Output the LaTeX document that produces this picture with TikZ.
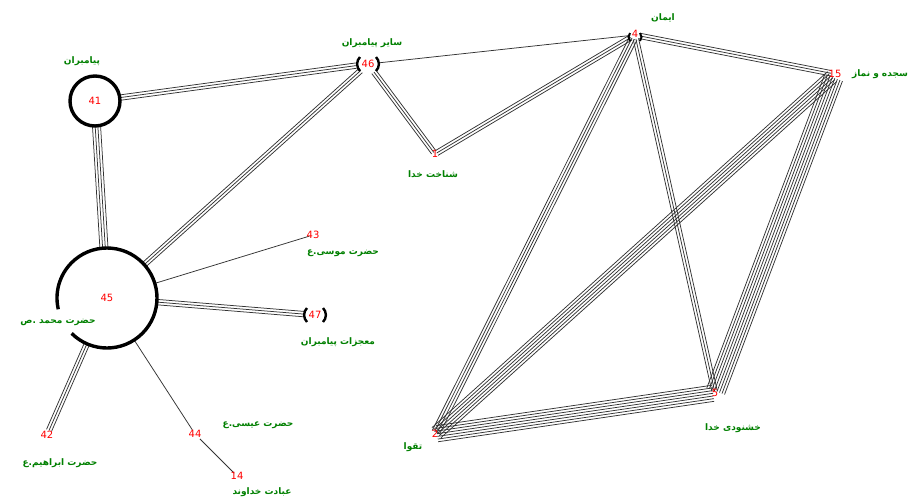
\documentclass[tikz,border=0pt]{standalone}
\usepackage{fontspec}
\usetikzlibrary{calc}
\newfontfamily\arabicfont[Script=Arabic]{DejaVu Sans}
\newfontfamily\numfont{DejaVu Sans}
\TeXXeTstate=1
\definecolor{lblgreen}{RGB}{0,128,0}
\definecolor{numred}{RGB}{255,0,0}
\newcommand\mlines[4]{%
  \foreach \i in {1,...,#3}{%
    \pgfmathsetmacro\dd{(\i-(#3+1)/2)*2.7}%
    \draw[edge,#4] ($(#1)!\dd pt!90:(#2)$) -- ($(#2)!\dd pt!-90:(#1)$);
  }}
\begin{document}
\begin{tikzpicture}[x=1pt,y=1pt,
  edge/.style={draw=black!80,line width=0.75pt},
  lbl/.style={text=lblgreen,font=\arabicfont\bfseries\fontsize{9}{11}\selectfont,inner sep=0pt},
  num/.style={text=numred,font=\numfont\fontsize{10}{11}\selectfont,inner sep=0pt},
  brk/.style={draw=black,line width=2.4pt},
  ring/.style={draw=black,line width=3.4pt}]
\useasboundingbox[fill=white] (0,0) rectangle (909,-499);
% positions
\coordinate (c41) at (95,-101);
\coordinate (c45) at (107,-298);
\coordinate (c46) at (368,-64);
\coordinate (c1) at (435,-154);
\coordinate (c4) at (635,-35);
\coordinate (c15) at (835,-74);
\coordinate (c43) at (313,-235);
\coordinate (c47) at (315,-315);
\coordinate (c42) at (47,-435);
\coordinate (c44) at (195,-434);
\coordinate (c14) at (237,-476);
\coordinate (c2) at (435,-434);
\coordinate (c5) at (715,-393);
% edges
\mlines{c41}{c46}{3}{shorten <=26pt,shorten >=12pt}
\mlines{c45}{c41}{4}{shorten <=51pt,shorten >=26pt}
\mlines{c45}{c46}{3}{shorten <=51pt,shorten >=10pt}
\mlines{c46}{c4}{1}{shorten <=11pt,shorten >=5pt}
\mlines{c46}{c1}{3}{shorten <=10pt,shorten >=2pt}
\mlines{c1}{c4}{3}{shorten <=2pt,shorten >=5pt}
\mlines{c45}{c43}{1}{shorten <=51pt,shorten >=4pt}
\mlines{c45}{c47}{3}{shorten <=51pt,shorten >=10pt}
\mlines{c45}{c42}{3}{shorten <=51pt,shorten >=5pt}
\mlines{c45}{c44}{1}{shorten <=51pt,shorten >=5pt}
\mlines{c44}{c14}{1}{shorten <=7pt,shorten >=4pt}
\mlines{c4}{c15}{3}{shorten <=5pt,shorten >=4pt}
\mlines{c4}{c2}{4}{shorten <=4pt,shorten >=2pt}
\mlines{c4}{c5}{3}{shorten <=4pt,shorten >=2pt}
\mlines{c15}{c2}{6}{shorten <=4pt,shorten >=2pt}
\mlines{c15}{c5}{8}{shorten <=4pt,shorten >=2pt}
\mlines{c2}{c5}{7}{shorten <=2pt,shorten >=2pt}
% rings
\draw[ring] (c41) circle[radius=25];
\draw[ring] (c45) ++(225:50) arc[start angle=225,end angle=553,radius=50];
% brackets
\draw[brk] ($(c46)+(-8,7)$) to[bend right=45] ($(c46)+(-8,-7)$);
\draw[brk] ($(c46)+(8,7)$) to[bend left=45] ($(c46)+(8,-7)$);
\draw[brk] ($(c47)+(-8,7)$) to[bend right=45] ($(c47)+(-8,-7)$);
\draw[brk] ($(c47)+(8,7)$) to[bend left=45] ($(c47)+(8,-7)$);
\draw[brk,line width=2pt] ($(c4)+(-5,2)$) to[bend right=40] ($(c4)+(-5,-6)$);
\draw[brk,line width=2pt] ($(c4)+(5,2)$) to[bend left=40] ($(c4)+(5,-6)$);
% numbers
\node[num] (n41) at (c41) {41};
\node[num] (n45) at (c45) {45};
\node[num] (n46) at (c46) {46};
\node[num] (n1) at (c1) {1};
\node[num] (n4) at ($(c4)+(0,1)$) {4};
\node[num] (n15) at (c15) {15};
\node[num] (n43) at (c43) {43};
\node[num] (n47) at (c47) {47};
\node[num] (n42) at (c42) {42};
\node[num] (n44) at (c44) {44};
\node[num] (n14) at (c14) {14};
\node[num] (n2) at (c2) {2};
\node[num] (n5) at (c5) {5};
% labels
\node[lbl] (l41) at (82,-61) {\beginR پیامبران\endR};
\node[lbl] (l46) at (372,-43) {\beginR سایر پیامبران\endR};
\node[lbl] (l1) at (433,-174) {\beginR شناخت خدا\endR};
\node[lbl] (l4) at (663,-18) {\beginR ایمان\endR};
\node[lbl] (l15) at (880,-74) {\beginR سجده و نماز\endR};
\node[lbl] (l45) at (58,-322) {\beginR حضرت محمد .ص\endR};
\node[lbl] (l43) at (343,-253) {\beginR حضرت موسی.ع\endR};
\node[lbl] (l47) at (338,-342) {\beginR معجزات پیامبران\endR};
\node[lbl] (l42) at (60,-463) {\beginR حضرت ابراهیم.ع\endR};
\node[lbl] (l44) at (258,-425) {\beginR حضرت عیسی.ع\endR};
\node[lbl] (l14) at (262,-492) {\beginR عبادت خداوند\endR};
\node[lbl] (l2) at (413,-447) {\beginR تقوا\endR};
\node[lbl] (l5) at (733,-428) {\beginR خشنودی خدا\endR};
\end{tikzpicture}
\end{document}
